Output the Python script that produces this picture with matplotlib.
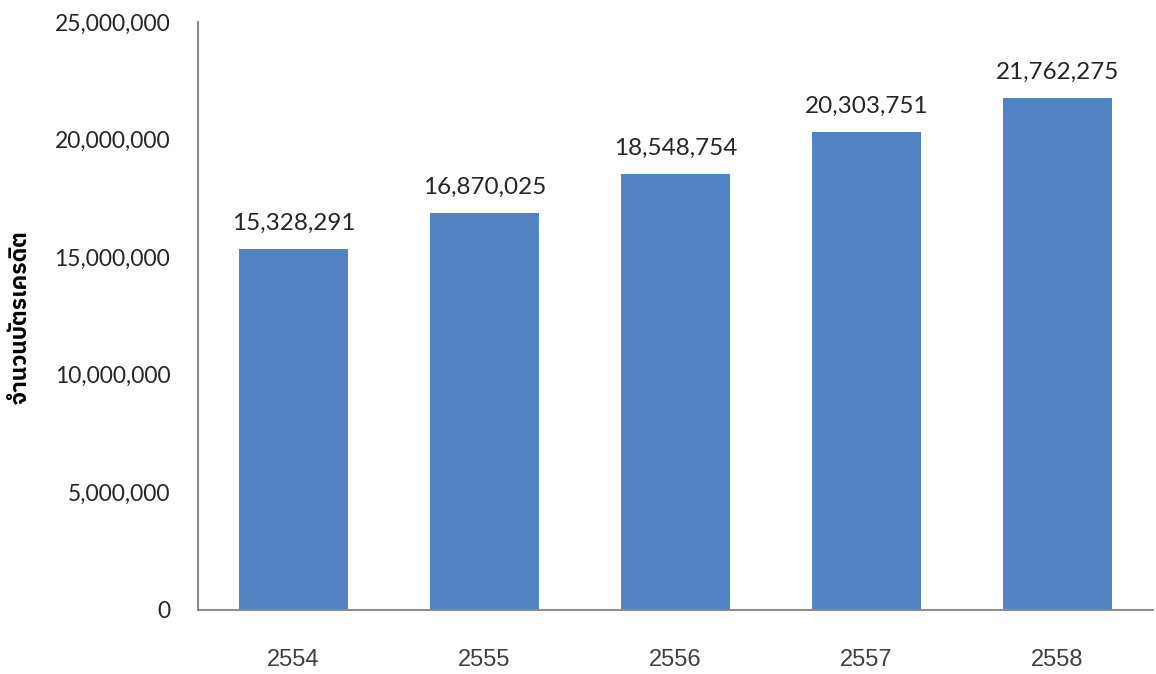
import matplotlib
matplotlib.use("Agg")
import matplotlib.pyplot as plt
from matplotlib.ticker import FuncFormatter
from matplotlib import font_manager

# years (Buddhist era) and number of credit cards
years = ["2554", "2555", "2556", "2557", "2558"]
cards = [15328291, 16870025, 18548754, 20303751, 21762275]
y_ticks = [0, 5000000, 10000000, 15000000, 20000000, 25000000]

# pick a family that has Thai glyphs, if any is installed
thai_fonts = [f.name for f in font_manager.fontManager.ttflist if "Thai" in f.name]
label_family = [thai_fonts[0]] if thai_fonts else []
label_family += ["Noto Sans", "DejaVu Sans"]

installed = {f.name for f in font_manager.fontManager.ttflist}
narrow = "Liberation Sans Narrow" if "Liberation Sans Narrow" in installed else "Liberation Sans"

fig = plt.figure(figsize=(11.56, 6.74), dpi=100)
ax = fig.add_axes([0.1713, 0.095, 0.8261, 0.8724])

x = range(len(years))
bars = ax.bar(x, cards, width=0.57, color="#5283c2")

for b, v in zip(bars, cards):
    ax.annotate(f"{v:,}", (b.get_x() + b.get_width() / 2, v),
                xytext=(0, 11), textcoords="offset points",
                ha="center", va="bottom", fontsize=17.5,
                family="Lato", color="#262626")

ax.set_xlim(-0.5, len(years) - 0.5)
ax.set_ylim(0, 25000000)
ax.set_xticks(list(x))
ax.set_xticklabels(years, family=narrow, fontsize=17, color="#404040")
ax.set_yticks(y_ticks)
ax.yaxis.set_major_formatter(FuncFormatter(lambda v, p: f"{int(v):,}"))
for t in ax.get_yticklabels():
    t.set_family("Lato")
    t.set_fontsize(16.5)
    t.set_color("#262626")

ax.tick_params(axis="x", length=0, pad=28)
ax.tick_params(axis="y", length=0, pad=20)

for s in ["top", "right"]:
    ax.spines[s].set_visible(False)
ax.spines["left"].set_color("#8c8c8c")
ax.spines["bottom"].set_color("#8c8c8c")
ax.spines["left"].set_linewidth(1.5)
ax.spines["bottom"].set_linewidth(1.5)

fig.text(0.018, 0.53, "จำนวนบัตรเครดิต", rotation=90, ha="center", va="center",
         fontsize=16.5, fontweight="bold", family=label_family, color="#000000")

fig.savefig("out.png", dpi=100)
